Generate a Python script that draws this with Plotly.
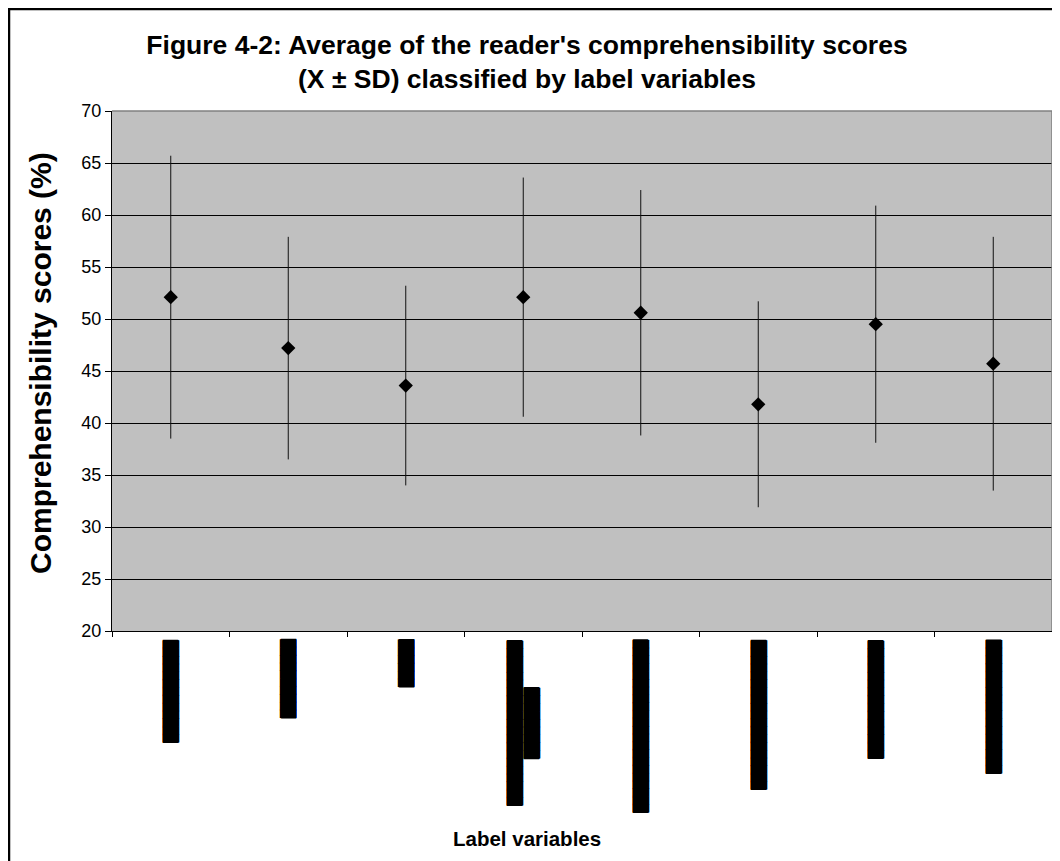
import plotly.graph_objects as go

# ---- data ----
B = "\u2588"
x_labels = [
    B * 13,
    B * 10,
    B * 6,
    B * 21 + "<br>" + B * 9,
    B * 22,
    B * 19,
    B * 15,
    B * 17,
]
means = [52.1, 47.2, 43.6, 52.1, 50.6, 41.8, 49.5, 45.7]
sds = [13.6, 10.7, 9.6, 11.5, 11.8, 9.9, 11.4, 12.2]
y_ticks = [20, 25, 30, 35, 40, 45, 50, 55, 60, 65, 70]

title_text = ("<b>Figure 4-2: Average of the reader's comprehensibility scores<br>"
              "(X \u00b1 SD) classified by label variables</b>")
y_title = "<b>Comprehensibility scores (%)</b>"
x_title = "<b>Label variables</b>"

# page has an 8px body margin; figure sized to fit the window
W, H = 1052, 853
L, R, T, Bm = 104, 8, 103, 230
pw, ph = W - L - R, H - T - Bm
OFF = 8


def px_x(p):  # screen px -> paper
    return (p - OFF - L) / pw


def px_y(p):
    return (H - Bm - (p - OFF)) / ph


fig = go.Figure()
fig.add_trace(go.Scatter(
    x=x_labels, y=means, mode="markers",
    marker=dict(symbol="diamond", size=11, color="black"),
    error_y=dict(type="data", array=sds, visible=True, color="#111111",
                 thickness=1, width=0),
    showlegend=False, hoverinfo="skip",
))

font_main = "Liberation Sans, Arial, sans-serif"

fig.update_layout(
    width=W, height=H,
    margin=dict(l=L, r=R, t=T, b=Bm, pad=0),
    paper_bgcolor="white",
    plot_bgcolor="#C0C0C0",
    font=dict(family=font_main, color="black"),
    title=dict(text=title_text, x=519 / W, xref="container", xanchor="center",
               y=1 - 46 / H, yref="container", yanchor="middle",
               font=dict(size=26.5, family=font_main, color="black")),
    xaxis=dict(
        type="category", categoryorder="array", categoryarray=x_labels,
        tickson="boundaries", ticks="outside", ticklen=5, tickcolor="black",
        showticklabels=False, showgrid=False, showline=True, linecolor="black",
        linewidth=1, zeroline=False, range=[-0.5, 7.5],
    ),
    yaxis=dict(
        range=[20, 70], tickvals=y_ticks, ticks="outside", ticklen=6,
        tickcolor="black", showline=True, linecolor="black", linewidth=1,
        showgrid=True, gridcolor="black", gridwidth=1, zeroline=False,
        tickfont=dict(size=18, family=font_main, color="black"),
    ),
)

# x category labels (vertical text)
for lab in x_labels:
    fig.add_annotation(
        x=lab, xref="x", y=px_y(639), yref="paper", yanchor="top",
        xanchor="center", text=lab, textangle=-90, showarrow=False,
        align="center", borderpad=0,
        font=dict(family="DejaVu Sans Mono", size=13, color="black",
                  shadow="0.6px 0px 0px black, -0.6px 0px 0px black, "
                         "0px 0.6px 0px black, 0px -0.6px 0px black"),
    )

# y axis title
fig.add_annotation(
    x=px_x(40), xref="paper", y=px_y(363), yref="paper",
    xanchor="center", yanchor="middle", text=y_title, textangle=-90,
    showarrow=False, font=dict(size=30, family=font_main, color="black"),
)

# x axis title
fig.add_annotation(
    x=px_x(527), xref="paper", y=px_y(838), yref="paper", yanchor="middle",
    xanchor="center", text=x_title, showarrow=False,
    font=dict(size=20.5, family=font_main, color="black"),
)

# plot area border (top / right, grey)
fig.add_shape(type="line", xref="paper", yref="paper", x0=0, x1=1, y0=1, y1=1,
              line=dict(color="#808080", width=1.5), layer="above")
fig.add_shape(type="line", xref="paper", yref="paper", x0=1, x1=1, y0=0, y1=1,
              line=dict(color="#808080", width=1.5), layer="above")

# chart frame
fig.add_shape(type="rect", xref="paper", yref="paper",
              x0=px_x(9), x1=px_x(1090), y0=px_y(900), y1=px_y(9),
              line=dict(color="black", width=2.5), fillcolor="rgba(0,0,0,0)",
              layer="above")

fig.write_html("out.html")
